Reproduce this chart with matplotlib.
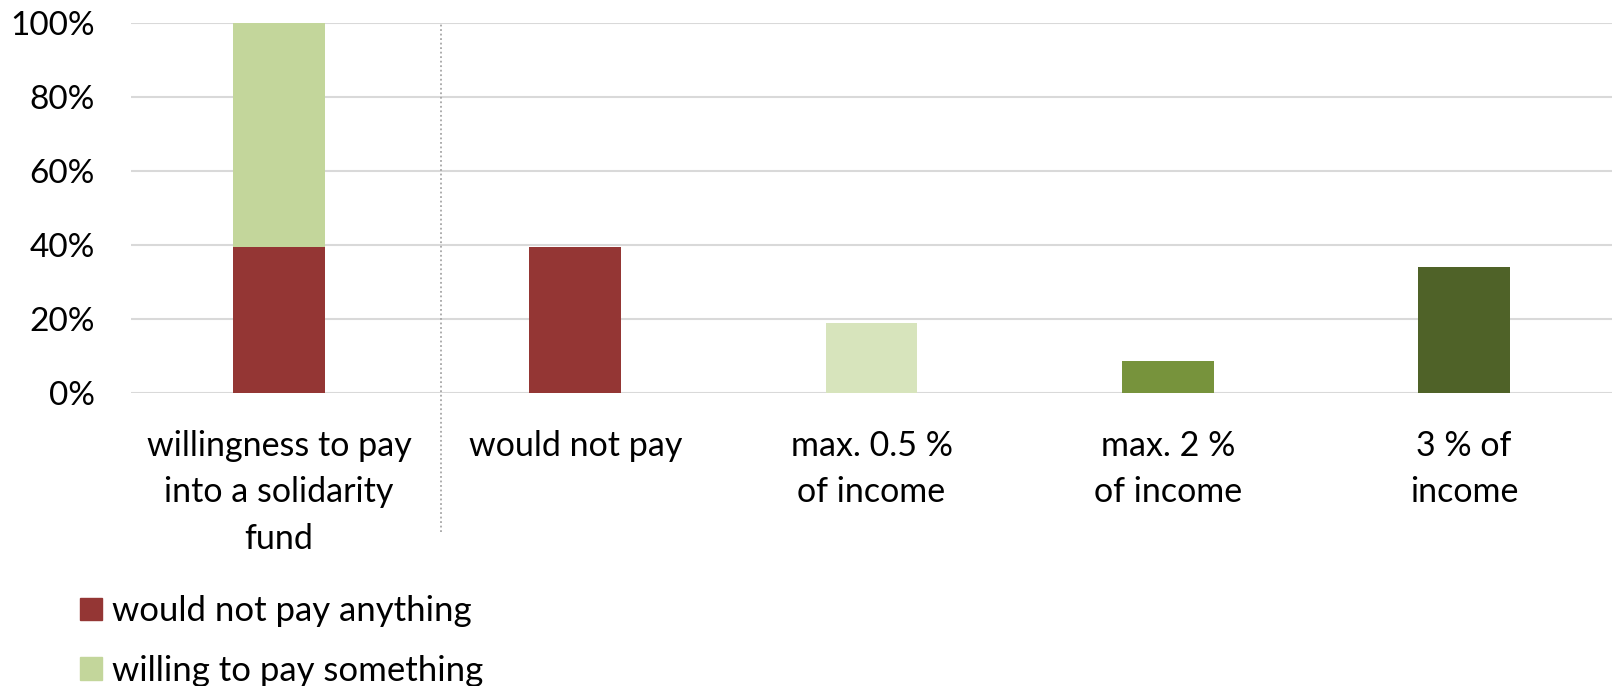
import numpy as np
import matplotlib.pyplot as plt
from matplotlib.patches import Patch

categories = ["willingness to pay\ninto a solidarity\nfund", "would not pay",
              "max. 0.5 %\nof income", "max. 2 %\nof income", "3 % of\nincome"]
not_paying = 39.4
willing = 60.6
amounts = [39.4, 18.8, 8.6, 34.0]
amount_colors = ["#943634", "#d7e4bc", "#77933c", "#4f6228"]
legend_labels = ["would not pay anything", "willing to pay something"]

plt.rcParams['font.family'] = ['Lato', 'DejaVu Sans']

fig = plt.figure(figsize=(16.12, 6.86), dpi=100)
ax = fig.add_axes([0.0813, 0.4276, 0.9187, 0.5394])

x = np.arange(len(categories))
w = 0.31
ax.bar(x[0], not_paying, w, color="#943634", zorder=3)
ax.bar(x[0], willing, w, bottom=not_paying, color="#c3d69b", zorder=3)
ax.bar(x[1:], amounts, w, color=amount_colors, zorder=3)

ax.set_ylim(0, 100)
ax.set_xlim(-0.5, 4.5)
ax.set_yticks(range(0, 101, 20))
ax.set_yticklabels(["%d%%" % v for v in range(0, 101, 20)])
ax.set_xticks(x)
ax.set_xticklabels(categories, fontsize=24.5, linespacing=1.55)
ax.yaxis.grid(True, color="#d9d9d9", lw=1.5, zorder=0)
for s in ax.spines.values():
    s.set_visible(False)
ax.tick_params(axis='both', length=0, colors='black')
ax.tick_params(axis='y', pad=26, labelsize=24)
ax.tick_params(axis='x', pad=27)

# dotted separator after the first group
ax.plot([0.545, 0.545], [-0.377, 1.0], transform=ax.get_xaxis_transform(),
        clip_on=False, ls=(0, (1, 1.5)), color="#a6a6a6", lw=1.3)

handles = [Patch(color="#943634"), Patch(color="#c3d69b")]
fig.legend(handles, legend_labels, loc='upper left', bbox_to_anchor=(0.0325, 0.173),
           frameon=False, fontsize=25, handlelength=0.62, handleheight=0.62,
           handletextpad=0.3, labelspacing=0.8, borderpad=0.3)

fig.savefig("out.png", dpi=100)
